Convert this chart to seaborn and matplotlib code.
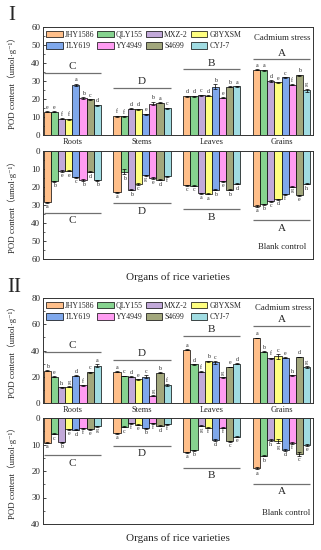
import numpy as np
import pandas as pd
import seaborn as sns
import matplotlib.pyplot as plt
from matplotlib.patches import Patch
from matplotlib.container import BarContainer
from matplotlib.ticker import MultipleLocator

sns.set_style("ticks")
plt.rcParams['font.family'] = ['Liberation Serif', 'Noto Sans CJK SC', 'DejaVu Sans']

organs = ["Roots", "Stems", "Leaves", "Grains"]
varieties = ["JHY1586", "QLY155", "MXZ-2", "G8YXSM", "TLY619", "YY4949", "S4699", "CYJ-7"]
colors = ["#FFBF8A", "#86D38F", "#C2A9D9", "#FFFF7F", "#7FA8EC", "#FF9CF2", "#A2A77C", "#A0DCE2"]

# Panel I - cadmium stress (rows: organs, cols: varieties)
I_cd = [[13.0, 13.0, 9.0, 8.8, 28.0, 20.5, 19.8, 16.5],
        [10.5, 10.3, 14.5, 14.3, 11.5, 17.5, 18.0, 14.8],
        [21.5, 21.5, 22.2, 21.8, 26.8, 20.8, 26.8, 27.0],
        [36.2, 36.0, 30.0, 29.2, 32.0, 28.0, 33.2, 24.8]]
I_cd_err = [[0.3, 0.3, 0.3, 0.3, 0.5, 0.4, 0.3, 0.3],
            [0.3, 0.3, 0.3, 0.3, 0.3, 1.0, 0.4, 0.4],
            [0.3, 0.3, 0.3, 0.3, 1.3, 0.3, 0.3, 0.3],
            [0.3, 0.3, 0.4, 0.3, 0.3, 0.3, 0.3, 1.0]]
I_cd_letters = ["eeffabcd", "ffddebac", "ddcdbeba", "aadecfbg"]
I_cd_groups = ["C", "D", "B", "A"]
I_cd_lines = [34.5, 26.0, 36.5, 42.0]

# Panel I - blank control
I_ck = [[28.5, 16.8, 11.0, 11.0, 14.5, 16.0, 11.5, 16.3],
        [23.0, 11.5, 21.5, 18.5, 13.5, 15.0, 16.0, 14.0],
        [19.0, 19.2, 23.5, 23.8, 21.5, 16.8, 21.5, 18.3],
        [30.5, 29.5, 27.8, 26.8, 24.0, 19.8, 24.5, 18.3]]
I_ck_err = [[0.3, 0.4, 0.5, 0.3, 0.3, 0.5, 0.3, 0.3],
            [0.3, 1.5, 0.3, 0.5, 0.3, 0.3, 0.3, 0.3],
            [0.3, 0.3, 0.3, 0.3, 0.3, 0.3, 0.4, 0.3],
            [0.4, 0.3, 0.3, 0.3, 0.3, 0.3, 0.3, 0.3]]
I_ck_letters = ["abeecbdb", "abbcgedf", "ccaabebd", "abcdfgeh"]
I_ck_groups = ["C", "D", "B", "A"]
I_ck_lines = [34.3, 29.0, 32.4, 38.3]

# Panel II - cadmium stress
II_cd = [[24.5, 20.0, 12.0, 12.5, 20.8, 13.5, 23.5, 28.5],
         [24.0, 20.5, 20.0, 18.0, 20.0, 5.5, 23.0, 13.8],
         [40.5, 29.5, 24.0, 31.8, 31.0, 19.5, 27.5, 29.8],
         [49.5, 39.0, 34.0, 35.5, 34.5, 21.0, 35.0, 27.5]]
II_cd_err = [[0.4, 0.4, 0.3, 0.3, 0.6, 0.3, 0.4, 1.0],
             [0.4, 0.3, 0.4, 0.3, 1.2, 0.3, 0.5, 0.5],
             [0.3, 0.3, 0.3, 0.5, 1.0, 0.3, 0.3, 0.3],
             [0.3, 0.5, 0.5, 1.8, 0.5, 0.3, 0.3, 0.5]]
II_cd_letters = ["behgdfca", "acdecgbf", "adfbcged", "abfcehdg"]
II_cd_groups = ["C", "D", "B", "A"]
II_cd_lines = [38.9, 33.0, 50.8, 58.4]

# Panel II - blank control
II_ck = [[9.3, 6.0, 9.2, 4.2, 4.5, 3.8, 4.2, 3.2],
         [5.7, 3.3, 2.0, 2.5, 3.8, 2.0, 3.0, 2.3],
         [13.0, 12.2, 3.0, 3.6, 8.3, 3.6, 8.8, 7.0],
         [19.0, 14.2, 8.2, 8.8, 12.0, 9.5, 13.5, 10.2]]
II_ck_err = [[0.2, 0.2, 0.2, 0.2, 0.2, 0.2, 0.2, 0.2],
             [0.2, 0.2, 0.2, 0.2, 0.2, 0.2, 0.2, 0.2],
             [0.2, 0.2, 0.2, 0.2, 0.2, 0.2, 0.2, 0.2],
             [0.4, 0.3, 0.3, 0.8, 0.3, 0.3, 0.8, 0.3]]
II_ck_letters = ["acbedfeg", "acfebfdf", "abgfdfce", "abhgdfce"]
II_ck_groups = ["C", "D", "B", "A"]
II_ck_lines = [14.1, 10.4, 18.9, 24.9]

W, H = 321, 550
fig = plt.figure(figsize=(W / 100, H / 100), dpi=100)

YLABEL = "POD content（umol·g⁻¹）"


def make_ax(top_px, bot_px):
    return fig.add_axes([43 / W, 1 - bot_px / H, 270 / W, (bot_px - top_px) / H])


def draw(ax, vals, errs, letters, groups, lines, ymax, major, inverted, goff):
    df = pd.DataFrame({
        "organ": np.repeat(organs, len(varieties)),
        "variety": varieties * len(organs),
        "value": np.array(vals).ravel(),
    })
    sns.barplot(data=df, x="organ", y="value", hue="variety", order=organs,
                hue_order=varieties, palette=colors, width=0.82,
                edgecolor="black", linewidth=0.5, errorbar=None,
                legend=False, ax=ax, saturation=1)
    bar_conts = [c for c in ax.containers if isinstance(c, BarContainer)]
    for i, cont in enumerate(bar_conts):
        for j, bar in enumerate(cont.patches):
            x = bar.get_x() + bar.get_width() / 2
            h = bar.get_height()
            e = errs[j][i]
            ax.errorbar(x, h, yerr=e, fmt='none', ecolor='black',
                        elinewidth=0.5, capsize=1.3, capthick=0.5)
            off = ymax * 0.012
            ax.text(x, h + e + off, letters[j][i], ha='center',
                    va='top' if inverted else 'bottom', fontsize=4.2)
    for j in range(len(organs)):
        ax.hlines(lines[j], j - 0.41, j + 0.41, color="#707070", lw=0.9)
        ax.text(j, lines[j] + goff, groups[j], ha='center',
                va='top' if inverted else 'bottom', fontsize=8)
    ax.set_xlim(-0.42, 3.45)
    if inverted:
        ax.set_ylim(ymax, 0)
    else:
        ax.set_ylim(0, ymax)
    ax.yaxis.set_major_locator(MultipleLocator(major))
    ax.yaxis.set_minor_locator(MultipleLocator(major / 2))
    ax.tick_params(axis='y', direction='in', labelsize=6.5, length=2.5, width=0.6, pad=2)
    ax.tick_params(axis='y', which='minor', direction='in', length=1.5, width=0.5)
    ax.tick_params(axis='x', length=0, labelsize=6, pad=2.5)
    ax.set_xlabel("")
    ax.set_ylabel("")
    for s in ax.spines.values():
        s.set_visible(True)
        s.set_linewidth(0.7)
        s.set_color("#333333")


def add_ylabel(top_px, bot_px):
    fig.text(12 / W, 1 - (top_px + bot_px) / 2 / H, YLABEL, rotation=90,
             ha='center', va='center', fontsize=6.3)


def add_legend(ax):
    handles = [Patch(facecolor=c, edgecolor='black', linewidth=0.5) for c in colors]
    order = [0, 4, 1, 5, 2, 6, 3, 7]
    ax.legend([handles[k] for k in order], [varieties[k] for k in order],
              ncol=4, loc='upper left', frameon=False, fontsize=5.6,
              handlelength=2.1, handleheight=1.0, columnspacing=0.4,
              handletextpad=0.25, borderaxespad=0.25, labelspacing=0.45,
              borderpad=0.2)


ax1 = make_ax(27, 135)
draw(ax1, I_cd, I_cd_err, I_cd_letters, I_cd_groups, I_cd_lines, 60, 10, False, 1.0)
add_legend(ax1)
add_ylabel(27, 135)
ax1.text(0.885, 0.9, "Cadmium stress", transform=ax1.transAxes, ha='center', va='center', fontsize=6.3)

ax2 = make_ax(151, 259)
draw(ax2, I_ck, I_ck_err, I_ck_letters, I_ck_groups, I_ck_lines, 60, 10, True, 2.0)
ax2.tick_params(axis='x', labelbottom=False)
add_ylabel(151, 259)
ax2.text(0.885, 0.11, "Blank control", transform=ax2.transAxes, ha='center', va='center', fontsize=6.3)

ax3 = make_ax(298, 403)
draw(ax3, II_cd, II_cd_err, II_cd_letters, II_cd_groups, II_cd_lines, 80, 20, False, 1.5)
add_legend(ax3)
add_ylabel(298, 403)
ax3.text(0.89, 0.905, "Cadmium stress", transform=ax3.transAxes, ha='center', va='center', fontsize=6.3)

ax4 = make_ax(418, 524)
draw(ax4, II_ck, II_ck_err, II_ck_letters, II_ck_groups, II_ck_lines, 40, 10, True, 1.2)
ax4.tick_params(axis='x', labelbottom=False)
add_ylabel(418, 524)
ax4.text(0.9, 0.105, "Blank control", transform=ax4.transAxes, ha='center', va='center', fontsize=6.3)

fig.text(178 / W, 1 - 277 / H, "Organs of rice varieties", ha='center', va='center', fontsize=8)
fig.text(178 / W, 1 - 538 / H, "Organs of rice varieties", ha='center', va='center', fontsize=8)
fig.text(12 / W, 1 - 15 / H, "I", ha='center', va='center', fontsize=15)
fig.text(14 / W, 1 - 287 / H, "II", ha='center', va='center', fontsize=15)

fig.savefig("out.png", dpi=100)
